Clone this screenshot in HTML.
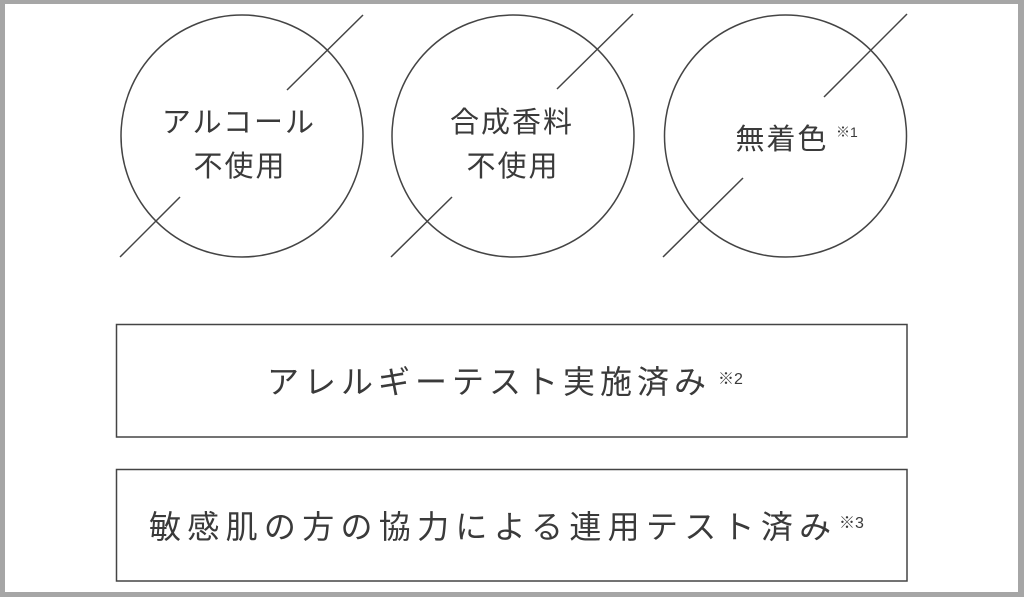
<!DOCTYPE html>
<html><head><meta charset="utf-8"><style>
html,body{margin:0;padding:0;background:#a6a6a6;}
svg{display:block}
text{font-family:"Liberation Sans","Noto Sans CJK JP",sans-serif;fill:#3a3a3a;}
</style></head><body>
<svg width="1024" height="597" viewBox="0 0 1024 597" xmlns="http://www.w3.org/2000/svg">
<rect x="0" y="0" width="1024" height="597" fill="#a6a6a6"/>
<rect x="5" y="4" width="1013" height="588" fill="#fff"/>
<g fill="none" stroke="#444" stroke-width="1.5">
<circle cx="242" cy="136" r="121"/>
<circle cx="513" cy="136" r="121"/>
<circle cx="785.5" cy="136" r="121"/>
<line x1="287" y1="90" x2="363" y2="15"/>
<line x1="180" y1="197" x2="120" y2="257"/>
<line x1="557" y1="89" x2="633" y2="14"/>
<line x1="452" y1="197" x2="391" y2="257"/>
<line x1="824" y1="97" x2="907" y2="14"/>
<line x1="743" y1="178" x2="663" y2="257"/>
<rect x="116.5" y="324.5" width="790.5" height="112.5"/>
<rect x="116.5" y="469.5" width="790.5" height="111.5"/>
</g>
<g font-size="29" letter-spacing="2" text-anchor="middle">
<text x="239" y="132">アルコール</text>
<text x="240" y="176">不使用</text>
<text x="512" y="132">合成香料</text>
<text x="513" y="176">不使用</text>
<text x="782" y="149">無着色</text>
</g>
<text x="836" y="137" font-size="14">※1</text>
<text x="267" y="393" font-size="32" letter-spacing="5">アレルギーテスト実施済み</text>
<text x="718" y="384" font-size="16">※2</text>
<text x="149" y="538" font-size="32" letter-spacing="6.3">敏感肌の方の協力による連用テスト済み</text>
<text x="839" y="528" font-size="16">※3</text>
</svg>
</body></html>
